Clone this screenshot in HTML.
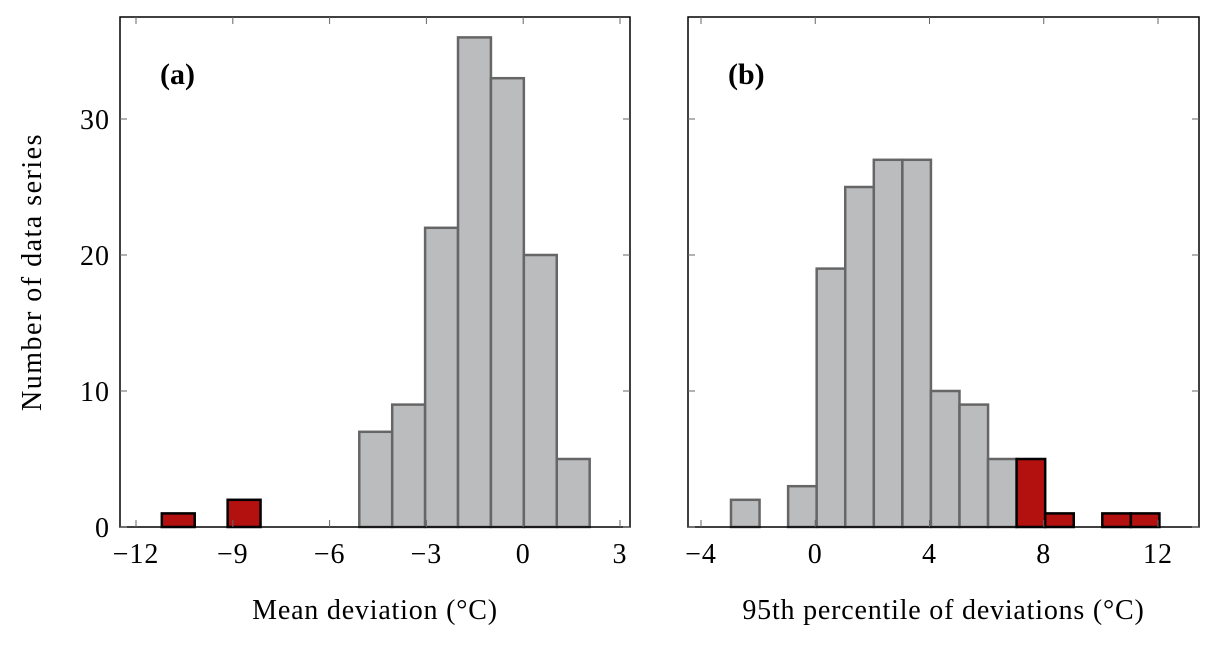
<!DOCTYPE html>
<html><head><meta charset="utf-8"><style>
body{margin:0;background:#fff;}
svg text{font-family:"Liberation Serif",serif;fill:#000;}
</style></head><body>
<svg id="c" width="1219" height="646" xmlns="http://www.w3.org/2000/svg"></svg>
<script>
const countsA = [1,0,2,0,0,0,7,9,22,36,33,20,5];
const redA = [1,1,1,0,0,0,0,0,0,0,0,0,0];
const startA = -11.2, widthA = 1.02;
const ticksXA = [-12,-9,-6,-3,0,3];
const countsB = [2,0,3,19,25,27,27,10,9,5,5,1,0,1,1];
const redB = [0,0,0,0,0,0,0,0,0,0,1,1,1,1,1];
const startB = -2.95, widthB = 1.0;
const ticksXB = [-4,0,4,8,12];
const ticksY = [0,10,20,30];
const NS="http://www.w3.org/2000/svg";
const svg=document.getElementById('c');
function el(t,a){const e=document.createElementNS(NS,t);for(const k in a)e.setAttribute(k,a[k]);svg.appendChild(e);return e;}
function fmt(v){return v<0?'\u2212'+(-v):''+v;}
function panel(p){
  const y0=527,y1=17,ymax=37.5;
  const sx=v=>p.px0+(v-p.xmin)/(p.xmax-p.xmin)*(p.px1-p.px0);
  const sy=v=>y0-v/ymax*(y0-y1);
  p.counts.forEach((c,i)=>{
    const a=sx(p.start+i*p.w),b=sx(p.start+(i+1)*p.w);
    const red=p.red[i];
    const r=el('rect',{x:a,y:sy(c),width:b-a,height:y0-sy(c),fill:red?'#b31010':'#bbbcbe',stroke:red?'#000':'#666',"stroke-width":2.5});
    
    
  });
  const f=el('rect',{x:p.fx0,y:y1,width:p.fx1-p.fx0,height:y0-y1,fill:'none',stroke:'#000',"stroke-width":1.5});
  
  p.ticksX.forEach(v=>{
    const x=sx(v);
    el('line',{x1:x,x2:x,y1:y0,y2:y0-7,stroke:'#666',"stroke-width":1});
    el('line',{x1:x,x2:x,y1:y1,y2:y1+7,stroke:'#666',"stroke-width":1});
    const t=el('text',{x:x,y:y0+36,"font-size":28,"text-anchor":"middle","letter-spacing":1});t.textContent=fmt(v);
    
  });
  ticksY.forEach(v=>{
    const y=sy(v);
    el('line',{x1:p.fx0,x2:p.fx0+7,y1:y,y2:y,stroke:'#666',"stroke-width":1});
    el('line',{x1:p.fx1,x2:p.fx1-7,y1:y,y2:y,stroke:'#666',"stroke-width":1});
    if(p.ylab){const t=el('text',{x:p.fx0-10,y:y+10,"font-size":28,"text-anchor":"end","letter-spacing":1});t.textContent=v;
      }
  });
  const l=el('text',{x:p.fx0+40,y:84,"font-size":30,"font-weight":"bold"});l.textContent=p.label;
  
  const xt=el('text',{x:(p.fx0+p.fx1)/2,y:619,"font-size":28,"text-anchor":"middle","letter-spacing":0.8});xt.textContent=p.xtitle;
  
}
panel({id:'a',counts:countsA,red:redA,start:startA,w:widthA,ticksX:ticksXA,xmin:-12,xmax:3,px0:136,px1:620,fx0:120,fx1:630,ylab:true,label:'(a)',xtitle:'Mean deviation (\u00B0C)'});
panel({id:'b',counts:countsB,red:redB,start:startB,w:widthB,ticksX:ticksXB,xmin:-4,xmax:12,px0:701,px1:1158,fx0:688,fx1:1199,ylab:false,label:'(b)',xtitle:'95th percentile of deviations (\u00B0C)'});
const yt=el('text',{x:0,y:0,"font-size":28,"text-anchor":"middle","letter-spacing":1.5,transform:"translate(41,272) rotate(-90)"});
yt.textContent='Number of data series';

</script>
</body></html>
